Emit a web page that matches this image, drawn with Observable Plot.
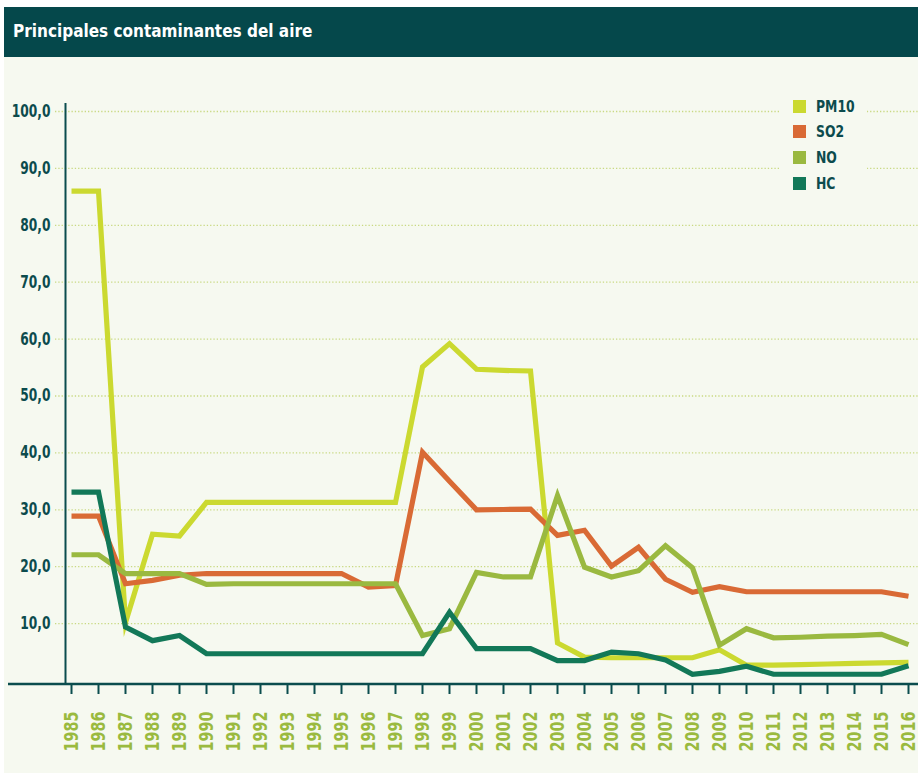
<!DOCTYPE html>
<html>
<head>
<meta charset="utf-8">
<script src="https://cdn.jsdelivr.net/npm/d3@7"></script>
<script src="https://cdn.jsdelivr.net/npm/@observablehq/plot@0.6"></script>
<style>
  body { margin: 0; background: #ffffff; }
  #wrap { position: relative; width: 918px; height: 773px; overflow: hidden; }
  .cond { font-family: "Liberation Sans Narrow", "DejaVu Sans Condensed", "Roboto Condensed", "Roboto", sans-serif; font-stretch: condensed; font-weight: bold; }
  #header { position: absolute; left: 4px; top: 7px; width: 914px; height: 50px; background: #05484b; }
  #title { position: absolute; left: 13px; top: 21px; color: #ffffff; font-size: 17px; line-height: 20px; white-space: nowrap; }
  #panel { position: absolute; left: 4px; top: 57px; width: 914px; height: 716px; background: #f6f9f0; }
  #chart { position: absolute; left: 0; top: 57px; }
  #chart svg { font-family: "Liberation Sans Narrow", "DejaVu Sans Condensed", "Roboto Condensed", "Roboto", sans-serif; font-stretch: condensed; font-weight: bold; overflow: visible; }
  #legend { position: absolute; left: 779px; top: 95px; width: 88px; height: 100px; background: #f6f9f0; }
  .item { position: absolute; left: 14px; height: 13px; }
  .sw { position: absolute; left: 0; top: 0; width: 13px; height: 13px; }
  .lb { position: absolute; left: 23px; top: -3px; font-size: 16px; line-height: 19px; color: #0c4b4d; white-space: nowrap; transform: scaleX(0.86); transform-origin: 0 50%; }
</style>
</head>
<body>
<div id="wrap">
  <div id="header"></div>
  <div id="title" class="cond">Principales contaminantes del aire</div>
  <div id="panel"></div>
  <div id="chart"></div>
  <div id="legend"></div>
</div>
<script>
// ---- data ----
const years = [1985, 1986, 1987, 1988, 1989, 1990, 1991, 1992, 1993, 1994, 1995, 1996, 1997, 1998, 1999, 2000,
               2001, 2002, 2003, 2004, 2005, 2006, 2007, 2008, 2009, 2010, 2011, 2012, 2013, 2014, 2015, 2016];
const seriesNames = ["PM10", "SO2", "NO", "HC"];
const pm10 = [86.0, 86.0, 10.2, 25.7, 25.4, 31.3, 31.3, 31.3, 31.3, 31.3, 31.3, 31.3, 31.3, 55.1, 59.2, 54.7,
              54.5, 54.4, 6.6, 4.1, 4.0, 4.0, 4.0, 4.0, 5.4, 2.7, 2.7, 2.8, 2.9, 3.0, 3.1, 3.2];
const so2  = [28.9, 28.9, 17.0, 17.6, 18.5, 18.8, 18.8, 18.8, 18.8, 18.8, 18.8, 16.4, 16.7, 40.1, 35.0, 30.0,
              30.05, 30.1, 25.5, 26.4, 20.1, 23.4, 17.8, 15.5, 16.5, 15.6, 15.6, 15.6, 15.6, 15.6, 15.6, 14.8];
const no   = [22.1, 22.1, 18.8, 18.8, 18.8, 16.9, 17.0, 17.0, 17.0, 17.0, 17.0, 17.0, 17.0, 7.9, 9.1, 19.0,
              18.2, 18.2, 32.5, 19.9, 18.2, 19.3, 23.7, 19.8, 6.2, 9.1, 7.5, 7.6, 7.8, 7.9, 8.1, 6.3];
const hc   = [33.1, 33.1, 9.4, 7.0, 7.9, 4.7, 4.7, 4.7, 4.7, 4.7, 4.7, 4.7, 4.7, 4.7, 12.0, 5.6,
              5.6, 5.6, 3.5, 3.5, 5.0, 4.7, 3.6, 1.1, 1.6, 2.5, 1.1, 1.1, 1.1, 1.1, 1.1, 2.6];
const yTicks = [10, 20, 30, 40, 50, 60, 70, 80, 90, 100];
const colors = ["#cbd930", "#d96a35", "#9ab940", "#127858"];

// ---- table ----
const valuesBySeries = [pm10, so2, no, hc];
const table = [];
seriesNames.forEach((s, k) => {
  years.forEach((yr, i) => table.push({series: s, year: yr, value: valuesBySeries[k][i]}));
});

const teal = "#0c4b4d";
const chart = Plot.plot({
  width: 918,
  height: 716,
  marginLeft: 55,
  marginRight: 0,
  marginTop: 54,
  marginBottom: 89,
  style: {background: "transparent"},
  x: {domain: [1985 - 16 / 27, 2016 + 10 / 27], axis: null, label: null},
  y: {domain: [-0.703, 100], axis: null, label: null},
  color: {domain: seriesNames, range: colors},
  marks: [
    Plot.ruleY(yTicks, {stroke: "#c9d983", strokeWidth: 1.3, strokeDasharray: "1.3,2"}),
    Plot.axisY(yTicks, {anchor: "left", tickSize: 0, tickPadding: 5, label: null,
      tickFormat: d => d.toFixed(1).replace(".", ","), fill: teal, fontSize: 17, fontWeight: "bold"}),
    Plot.ruleX([1985 - 6 / 27], {y1: -0.7, y2: 101.4, stroke: "#0b4d4e", strokeWidth: 2}),
    Plot.axisX(years, {anchor: "bottom", tickSize: 10, tickFormat: () => "", stroke: "#0b4d4e", strokeWidth: 2, label: null}),
    Plot.axisX(years, {anchor: "bottom", tickSize: 0, tickPadding: 27, tickRotate: -90, label: null,
      tickFormat: d => String(d), fill: "#9aba3f", fontSize: 19, fontWeight: "bold"}),
    Plot.line(table, {x: "year", y: "value", z: "series", stroke: "series", strokeWidth: 5.2,
      strokeLinejoin: "miter", strokeLinecap: "butt", strokeMiterlimit: 10})
  ]
});
document.getElementById("chart").appendChild(chart);

// condense tick label glyphs horizontally (reference uses a condensed face)
function squeeze(sel, factor) {
  d3.select(chart).selectAll(sel).each(function () {
    const len = this.getComputedTextLength();
    if (len > 0) {
      this.setAttribute("textLength", (len * factor).toFixed(1));
      this.setAttribute("lengthAdjust", "spacingAndGlyphs");
    }
  });
}
squeeze('g[aria-label="y-axis tick label"] text', 0.8);
squeeze('g[aria-label="x-axis tick label"] text', 0.84);

// horizontal base axis line spanning to the panel's left edge
d3.select(chart).append("line")
  .attr("x1", 8).attr("x2", 918).attr("y1", 627).attr("y2", 627)
  .attr("stroke", "#0b4d4e").attr("stroke-width", 2.5);

// ---- legend ----
const legend = document.getElementById("legend");
const rowTops = [5, 30, 56, 82];
seriesNames.forEach((s, k) => {
  const it = document.createElement("div");
  it.className = "item";
  it.style.top = rowTops[k] + "px";
  it.innerHTML = `<div class="sw" style="background:${colors[k]}"></div><div class="lb cond">${s}</div>`;
  legend.appendChild(it);
});
</script>
</body>
</html>
